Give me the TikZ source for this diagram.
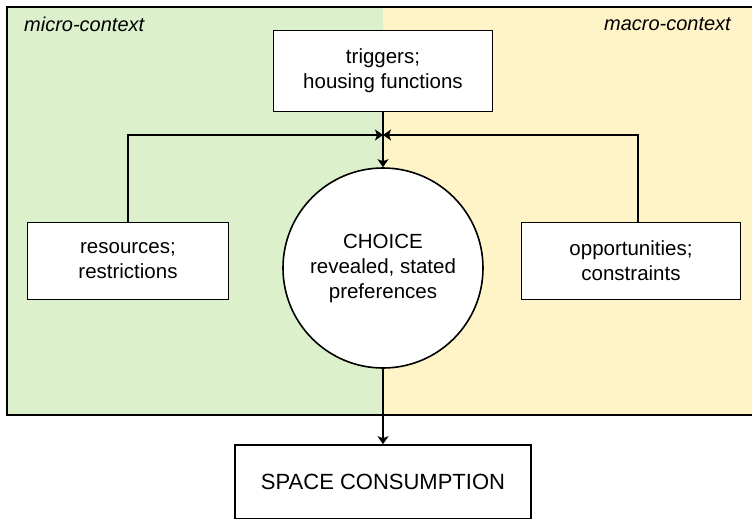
\documentclass[tikz,border=0pt]{standalone}
\usepackage{fontspec}
\setmainfont{Liberation Sans}
\usetikzlibrary{arrows.meta}
\definecolor{microgreen}{RGB}{219,240,203}
\definecolor{macroyellow}{RGB}{255,244,200}
\begin{document}
\begin{tikzpicture}[x=1pt,y=-1pt,
    box/.style={draw,line width=1.6pt,fill=white,align=center,inner sep=0pt,
        font=\fontsize{20.5}{25}\selectfont},
    ctx/.style={font=\itshape\fontsize{20}{22}\selectfont,inner sep=0pt},
    link/.style={line width=1.4pt,-{Stealth[length=8pt,width=11pt,inset=2pt]}}]
            \useasboundingbox (0,0) rectangle (752,519);
            \fill[microgreen] (7,7) rectangle (383,415);
            \fill[macroyellow] (383,7) rectangle (762,415);
            \draw[line width=2.2pt] (7,7) rectangle (762,415);

            \node[ctx,anchor=west] (micro) at (24,24) {micro-context};
            \node[ctx,anchor=east] (macro) at (731,24) {macro-context};

            \node[box,minimum width=219,minimum height=81] (triggers) at (383,71) {triggers;\\housing functions};
            \node[box,minimum width=201,minimum height=77] (resources) at (128,261) {resources;\\restrictions};
            \node[box,minimum width=219,minimum height=77] (options) at (631,261) {opportunities;\\constraints};
            \node[box,circle,minimum size=200] (choice) at (383,268) {CHOICE\\revealed, stated\\preferences};
            \node[box,minimum width=296,minimum height=74,font=\fontsize{22}{25}\selectfont] (space) at (383,482) {SPACE CONSUMPTION};

            \coordinate (meet) at (383,135);

            \draw[link] (resources.north) |- (meet);
            \draw[link] ([xshift=7pt]options.north) |- (meet);
            \draw[link] (triggers) -- (choice);
            \draw[link] (choice) -- (space);

        \end{tikzpicture}
\end{document}
